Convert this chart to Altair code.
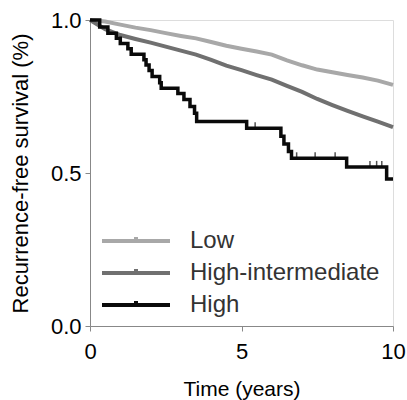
import altair as alt
import pandas as pd

low_t = [0, 0.5, 1.0, 1.5, 2.0, 2.5, 3.0, 3.5, 4.0, 4.5, 5.0, 5.5, 6.0, 6.5, 7.0, 7.5, 8.0, 8.5, 9.0, 9.5, 10.0]
low_s = [1.0, 0.995, 0.985, 0.975, 0.967, 0.957, 0.948, 0.94, 0.928, 0.916, 0.906, 0.897, 0.887, 0.868, 0.852, 0.838, 0.829, 0.82, 0.812, 0.802, 0.788]

mid_t = [0, 0.5, 1.0, 1.5, 2.0, 2.5, 3.0, 3.5, 4.0, 4.5, 5.0, 5.5, 6.0, 6.5, 7.0, 7.5, 8.0, 8.5, 9.0, 9.5, 10.0]
mid_s = [1.0, 0.97, 0.951, 0.938, 0.926, 0.913, 0.9, 0.887, 0.87, 0.851, 0.836, 0.82, 0.805, 0.785, 0.765, 0.742, 0.722, 0.703, 0.685, 0.668, 0.65]

high_t = [0, 0.32, 0.59, 0.87, 1.0, 1.25, 1.36, 1.78, 1.85, 1.95, 2.05, 2.3, 2.35, 2.9, 3.1, 3.3, 3.45, 3.52, 5.17, 6.3, 6.4, 6.55, 6.65, 8.47, 9.79, 10.0]
high_s = [1.0, 0.977, 0.957, 0.94, 0.923, 0.906, 0.888, 0.87, 0.853, 0.835, 0.815, 0.795, 0.777, 0.76, 0.74, 0.717, 0.695, 0.668, 0.646, 0.62, 0.595, 0.57, 0.548, 0.52, 0.48, 0.48]

high_cens_t = [5.45, 6.82, 7.43, 8.09, 9.24, 9.46, 9.63]
high_cens_s = [0.646, 0.548, 0.548, 0.548, 0.52, 0.52, 0.52]

groups = ["Low", "High-intermediate", "High"]
colors = ["#a8a8a8", "#707070", "#0a0a0a"]

gray_df = pd.DataFrame(
    {"t": low_t + mid_t, "s": low_s + mid_s,
     "group": ["Low"] * len(low_t) + ["High-intermediate"] * len(mid_t)}
)
high_df = pd.DataFrame({"t": high_t, "s": high_s, "group": ["High"] * len(high_t)})
cens_df = pd.DataFrame({"t": high_cens_t, "s": high_cens_s, "group": ["High"] * len(high_cens_t)})

FONT = "Liberation Sans"

x = alt.X("t:Q", scale=alt.Scale(domain=[0, 10], nice=False),
          axis=alt.Axis(values=[0, 5, 10], title="Time (years)", grid=False,
                        labelFontSize=22, titleFontSize=21, labelPadding=10,
                        titlePadding=16, titleFontWeight="normal", labelFlush=False))
y = alt.Y("s:Q", scale=alt.Scale(domain=[0, 1], nice=False),
          axis=alt.Axis(values=[0, 0.5, 1.0], format=".1f", grid=False,
                        title="Recurrence-free survival (%)",
                        labelFontSize=22, titleFontSize=22, labelPadding=4,
                        titlePadding=18, titleFontWeight="normal", labelFlush=False))
color = alt.Color("group:N", scale=alt.Scale(domain=groups, range=colors),
                  legend=alt.Legend(title=None, orient="none", legendX=10, legendY=209,
                                    symbolType="M-1,0H1M0,0V-0.12", symbolSize=4624,
                                    symbolStrokeWidth=4, clipHeight=24, rowPadding=8,
                                    labelFontSize=24, labelOffset=18, labelFont=FONT,
                                    labelLimit=0, labelColor="#333333"))

gray = alt.Chart(gray_df).mark_line(strokeWidth=4, interpolate="linear").encode(
    x=x, y=y, color=color, detail="group:N")
high = alt.Chart(high_df).mark_line(strokeWidth=3.5, interpolate="step-after").encode(
    x=x, y=y, color=color)
cens = alt.Chart(cens_df).mark_tick(orient="vertical", size=6, thickness=1.5, yOffset=-3).encode(
    x=x, y=y, color=alt.Color("group:N", scale=alt.Scale(domain=groups, range=colors), legend=None))

chart = alt.layer(gray, high, cens).properties(
    width=303, height=306,
    autosize=alt.AutoSizeParams(type="none"),
    padding={"left": 90, "top": 20, "right": 14, "bottom": 74},
).configure_view(stroke=None).configure_axis(
    domainColor="#707070", domainWidth=2, tickColor="#707070", tickWidth=2, tickSize=5,
    labelColor="#444444", titleColor="#333333", labelFont=FONT, titleFont=FONT,
).configure(background="white")

chart.save("out.html", embed_options={"renderer": "svg", "actions": False})
